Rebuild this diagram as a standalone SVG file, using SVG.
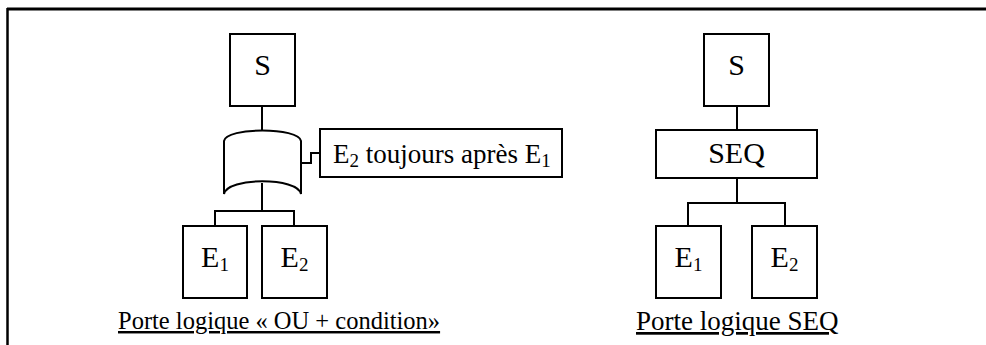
<svg xmlns="http://www.w3.org/2000/svg" width="986" height="345" viewBox="0 0 986 345">
<style>
.box{fill:#fff;stroke:#000;stroke-width:2}
.ln{fill:none;stroke:#000;stroke-width:2}
text{font-family:"Liberation Serif","Times New Roman",serif;fill:#000}
.big{font-size:30px;text-anchor:middle}
.mid{font-size:27px}
.cap{text-decoration:underline}
.sub{font-size:19px}
</style>
<rect width="986" height="345" fill="#fff"/>
<g id="frame">
<line x1="7" y1="9" x2="986" y2="9" stroke="#000" stroke-width="3"/>
<line x1="7.5" y1="8" x2="7.5" y2="345" stroke="#000" stroke-width="2.5"/>
</g>
<g id="connectors">
<line class="ln" x1="262" y1="106" x2="262" y2="131"/>
<line class="ln" x1="262" y1="183" x2="262" y2="211"/>
<polyline class="ln" points="215,226 215,211 294,211 294,226"/>
<polyline class="ln" points="301,163 311,163 311,153 320,153"/>
<line class="ln" x1="737" y1="106" x2="737" y2="130"/>
<line class="ln" x1="737" y1="178" x2="737" y2="203"/>
<polyline class="ln" points="688,226 688,203 785,203 785,226"/>
</g>
<g id="s1"><rect class="box" x="230" y="34" width="65" height="72"/><text class="big" x="262.5" y="75">S</text></g>
<g id="gate-ou"><path class="box" d="M224,141 C226,127 299,127 301,141 L301,194 C298,177 227,177 224,194 Z"/></g>
<g id="cond"><rect class="box" x="320" y="129" width="242" height="48"/><text class="mid" x="333" y="163">E<tspan class="sub" dy="4">2</tspan><tspan dy="-4"> toujours après E</tspan><tspan class="sub" dy="4">1</tspan></text></g>
<g id="e1a"><rect class="box" x="183" y="226" width="64" height="72"/><text class="big" x="215" y="267">E<tspan class="sub" dy="4">1</tspan></text></g>
<g id="e2a"><rect class="box" x="262" y="226" width="65" height="72"/><text class="big" x="294.5" y="267">E<tspan class="sub" dy="4">2</tspan></text></g>
<g id="cap1"><text class="cap" x="118" y="329" font-size="24.5">Porte logique « OU + condition»</text></g>
<g id="s2"><rect class="box" x="704" y="34" width="65" height="72"/><text class="big" x="736.5" y="75">S</text></g>
<g id="seq"><rect class="box" x="656" y="130" width="161" height="48"/><text class="big" x="736.5" y="163">SEQ</text></g>
<g id="e1b"><rect class="box" x="656" y="226" width="65" height="72"/><text class="big" x="688.5" y="267">E<tspan class="sub" dy="4">1</tspan></text></g>
<g id="e2b"><rect class="box" x="752" y="226" width="65" height="72"/><text class="big" x="784.5" y="267">E<tspan class="sub" dy="4">2</tspan></text></g>
<g id="cap2"><text class="cap" x="636" y="330" font-size="27">Porte logique SEQ</text></g>
</svg>
